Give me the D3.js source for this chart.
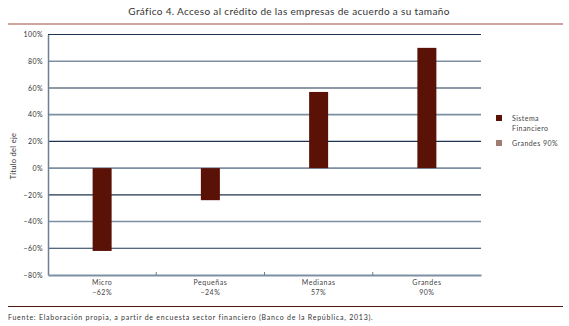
<!DOCTYPE html>
<html><head><meta charset="utf-8">
<script src="https://cdn.jsdelivr.net/npm/d3@7"></script>
<style>body{margin:0;background:#fff}svg{display:block}text{font-family:Lato,"Open Sans",sans-serif}</style>
</head><body>
<svg id="c" width="569" height="326"></svg>
<script>
const categories = ["Micro","Pequeñas","Medianas","Grandes"];
const categoryValueLabels = ["\u221262%","\u221224%","57%","90%"];
const sistemaFinanciero = [-0.62,-0.24,0.57,0.90];
const yTicks = [-0.8,-0.6,-0.4,-0.2,0,0.2,0.4,0.6,0.8,1.0];
const legendItems = [["Sistema","Financiero"],["Grandes 90%"]];
const legendColors = ["#5a1206","#a27b72"];

const svg = d3.select("#c");
const M = {l:48, r:481, t:34.5, b:275};
const x = d3.scaleBand().domain(categories).range([M.l, M.r]).padding(0);
const y = d3.scaleLinear().domain([-0.8, 1.0]).range([M.b, M.t]);

// title
svg.append("text").attr("x",289).attr("y",15).attr("text-anchor","middle")
  .attr("font-size",10).attr("letter-spacing",0.35).attr("fill","#333").text("Gráfico 4. Acceso al crédito de las empresas de acuerdo a su tamaño");
svg.append("line").attr("x1",8).attr("x2",563).attr("y1",24).attr("y2",24)
  .attr("stroke","#a04a40").attr("stroke-width",1.2);

// gridlines
svg.append("g").selectAll("line").data(yTicks.filter(d=>d>-0.8)).join("line")
  .attr("x1",M.l).attr("x2",M.r).attr("y1",d=>y(d)).attr("y2",d=>y(d))
  .attr("stroke",(d,i)=> (Math.round(d*10)/2)%2===0 ? "#7d8fa2" : "#1e3450")
  .attr("stroke-width",(d,i)=> (Math.round(d*10)/2)%2===0 ? 1.6 : 1.1);

// y axis
const ya = d3.axisLeft(y).tickValues(yTicks).tickFormat(d=>Math.round(d*100)+"%").tickSize(0).tickPadding(5);
const gy = svg.append("g").attr("transform",`translate(${M.l},0)`).call(ya);
gy.select(".domain").attr("stroke","#6b7f95").attr("stroke-width",1.5);
gy.selectAll("text").attr("font-size",7).attr("letter-spacing",0.4).attr("fill","#333").attr("font-family","Lato,sans-serif")
  .text(d=> (d<0? "\u2212" : "") + Math.abs(Math.round(d*100))+"%");

// x axis line
const xa = d3.axisBottom(x).tickSize(0).tickFormat("");
const gx = svg.append("g").attr("transform",`translate(0,${y(-0.8)})`).call(xa);
gx.select(".domain").attr("stroke","#7d8fa2").attr("stroke-width",2);
// category separators ticks
svg.append("g").selectAll("line").data(categories.slice(1)).join("line")
  .attr("x1",d=>x(d)).attr("x2",d=>x(d)).attr("y1",y(-0.8)-3).attr("y2",y(-0.8))
  .attr("stroke","#6b7f95").attr("stroke-width",1);

// category labels
const cl = svg.append("g").selectAll("text").data(categories).join("text")
  .attr("x",d=>x(d)+x.bandwidth()/2).attr("text-anchor","middle").attr("font-size",7)
  .attr("letter-spacing",0.5).attr("fill","#444");
cl.append("tspan").attr("x",d=>x(d)+x.bandwidth()/2).attr("y",285).text(d=>d);
cl.append("tspan").attr("x",d=>x(d)+x.bandwidth()/2).attr("y",295).text((d,i)=>categoryValueLabels[i]);

// bars
const bw = 19;
svg.append("g").selectAll("rect").data(sistemaFinanciero).join("rect")
  .attr("x",(d,i)=>x(categories[i])+x.bandwidth()/2-bw/2).attr("width",bw)
  .attr("y",d=>y(Math.max(0,d))).attr("height",d=>Math.abs(y(d)-y(0)))
  .attr("fill",legendColors[0]);

// axis title
svg.append("text").attr("transform","translate(16,156) rotate(-90)").attr("text-anchor","middle")
  .attr("font-size",7.5).attr("letter-spacing",0.3).attr("fill","#333").text("Título del eje");

// legend
const lg = svg.append("g");
[118,143].forEach((yy,i)=>{
  lg.append("rect").attr("x",496).attr("y",yy-3).attr("width",6).attr("height",6).attr("fill",legendColors[i]);
  legendItems[i].forEach((t,j)=>{
    lg.append("text").attr("x",512).attr("y",yy+2.5+j*10).attr("font-size",7).attr("letter-spacing",0.45)
      .attr("fill","#444").text(t);
  });
});

// footer
svg.append("line").attr("x1",8).attr("x2",563).attr("y1",306.5).attr("y2",306.5)
  .attr("stroke","#4a1a10").attr("stroke-width",1);
svg.append("text").attr("x",8).attr("y",320).attr("font-size",7).attr("letter-spacing",0.75).attr("fill","#333")
  .text("Fuente: Elaboración propia, a partir de encuesta sector financiero (Banco de la República, 2013).");
</script>
</body></html>
